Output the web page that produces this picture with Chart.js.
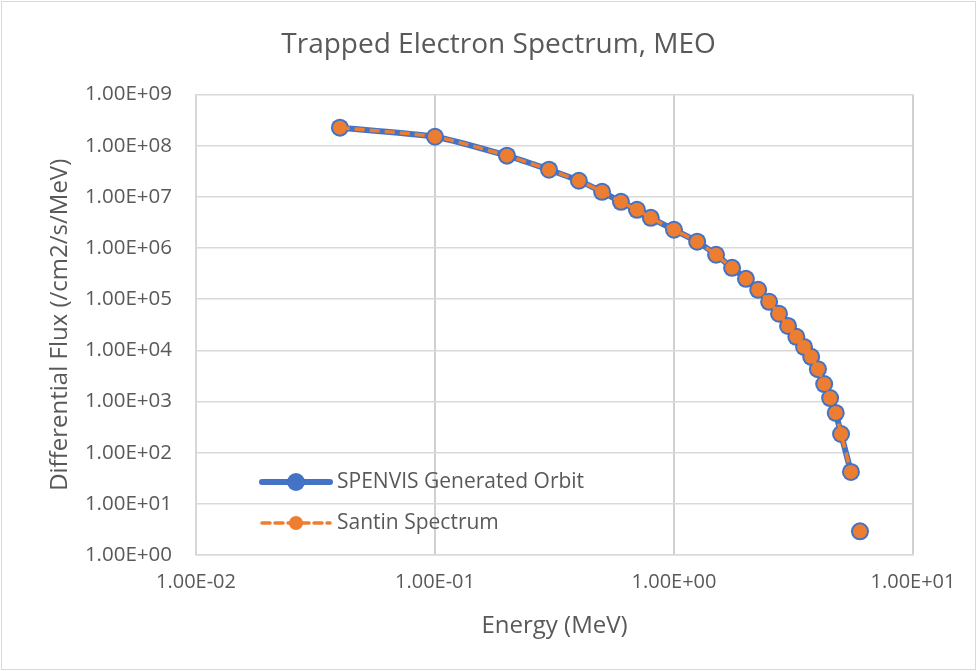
<!DOCTYPE html>
<html>
<head>
<meta charset="utf-8">
<script src="https://cdn.jsdelivr.net/npm/chart.js@4.4.1/dist/chart.umd.min.js"></script>
<style>
  html, body { margin: 0; padding: 0; background: #fff; }
  #wrap { position: relative; width: 977px; height: 671px; }
</style>
</head>
<body>
<div id="wrap"><canvas id="fluxChart" width="977" height="671"></canvas></div>
<script>
// Energies (MeV) and differential flux
const energies = [0.04, 0.1, 0.2, 0.3, 0.4, 0.5, 0.6, 0.7, 0.8, 1.0,
    1.25, 1.5, 1.75, 2.0, 2.25, 2.5, 2.75, 3.0, 3.25, 3.5,
    3.75, 4.0, 4.25, 4.5, 4.75, 5.0, 5.5, 5.75, 6.0];
const spenvisFlux = [2.26e8, 1.5e8, 6.4e7, 3.4e7, 2.07e7, 1.26e7, 8.0e6, 5.6e6, 3.9e6, 2.28e6,
    1.33e6, 7.4e5, 4.1e5, 2.5e5, 1.53e5, 8.9e4, 5.2e4, 3.0e4, 1.84e4, 1.17e4,
    7.5e3, 4.3e3, 2.2e3, 1.17e3, 600, 232, 42, null, 2.9];
const santinFlux = [2.26e8, 1.5e8, 6.4e7, 3.4e7, 2.07e7, 1.26e7, 8.0e6, 5.6e6, 3.9e6, 2.28e6,
    1.33e6, 7.4e5, 4.1e5, 2.5e5, 1.53e5, 8.9e4, 5.2e4, 3.0e4, 1.84e4, 1.17e4,
    7.5e3, 4.3e3, 2.2e3, 1.17e3, 600, 232, 42, null, 2.9];

const xTicks = [0.01, 0.1, 1, 10];
const xTickLabels = ['1.00E-02', '1.00E-01', '1.00E+00', '1.00E+01'];
const yTicks = [1, 1e1, 1e2, 1e3, 1e4, 1e5, 1e6, 1e7, 1e8, 1e9];
const yTickLabels = ['1.00E+00', '1.00E+01', '1.00E+02', '1.00E+03', '1.00E+04',
    '1.00E+05', '1.00E+06', '1.00E+07', '1.00E+08', '1.00E+09'];

const seriesNames = ['SPENVIS Generated Orbit', 'Santin Spectrum'];

const BLUE = '#4472C4';
const ORANGE = '#ED7D31';
const TEXT = '#595959';
const GRID = '#d9d9d9';

Chart.defaults.font.family = "'Open Sans', sans-serif";
Chart.defaults.color = TEXT;

function toPoints(ys) {
    return energies.map((e, i) => ({ x: e, y: ys[i] }));
}

// white background + outer frame
const frame = {
    id: 'frame',
    beforeDraw(chart) {
        const c = chart.ctx;
        c.save();
        c.fillStyle = '#fff';
        c.fillRect(0, 0, chart.width, chart.height);
        c.strokeStyle = GRID;
        c.lineWidth = 1;
        c.strokeRect(1.5, 1.5, chart.width - 3, chart.height - 3);
        c.restore();
    }
};

// legend sitting inside the plot area, lower left
const innerLegend = {
    id: 'innerLegend',
    afterDraw(chart) {
        const c = chart.ctx;
        const rows = [
            { y: 482, color: BLUE, width: 6, dash: [], r: 9 },
            { y: 523, color: ORANGE, width: 3.5, dash: [8, 5], r: 7 }
        ];
        c.save();
        rows.forEach((row, i) => {
            c.beginPath();
            c.setLineDash(row.dash);
            c.strokeStyle = row.color;
            c.lineWidth = row.width;
            c.lineCap = 'round';
            c.moveTo(262, row.y);
            c.lineTo(330, row.y);
            c.stroke();
            c.setLineDash([]);
            c.beginPath();
            c.fillStyle = row.color;
            c.arc(296, row.y, row.r, 0, Math.PI * 2);
            c.fill();
            c.fillStyle = TEXT;
            c.font = "21px 'Open Sans', sans-serif";
            c.textBaseline = 'middle';
            c.textAlign = 'left';
            c.fillText(seriesNames[i], 337, row.y);
        });
        c.restore();
    }
};

const ctx = document.getElementById('fluxChart').getContext('2d');
new Chart(ctx, {
    type: 'line',
    data: {
        datasets: [{
            label: seriesNames[0],
            data: toPoints(spenvisFlux),
            borderColor: BLUE,
            backgroundColor: BLUE,
            borderWidth: 6,
            pointRadius: 9,
            pointBorderWidth: 0,
            pointBackgroundColor: BLUE,
            tension: 0.2,
            spanGaps: false,
            order: 2
        }, {
            label: seriesNames[1],
            data: toPoints(santinFlux),
            borderColor: ORANGE,
            backgroundColor: ORANGE,
            borderWidth: 3.5,
            borderDash: [10, 5],
            pointRadius: 7,
            pointBorderWidth: 0,
            pointBackgroundColor: ORANGE,
            tension: 0.2,
            spanGaps: false,
            order: 1
        }]
    },
    options: {
        responsive: false,
        animation: false,
        layout: { padding: { left: 20, right: 0, top: 0, bottom: 0 } },
        plugins: {
            legend: { display: false },
            tooltip: { enabled: false },
            title: {
                display: true,
                text: 'Trapped Electron Spectrum, MEO',
                color: TEXT,
                font: { size: 28, weight: 'normal' },
                padding: { top: 28, bottom: 33 }
            }
        },
        scales: {
            x: {
                type: 'logarithmic',
                min: 0.01,
                max: 10,
                afterBuildTicks: s => { s.ticks = xTicks.map(v => ({ value: v })); },
                afterFit: s => { s.height = 116; },
                ticks: {
                    callback: (v, i) => xTickLabels[i],
                    font: { size: 20 },
                    color: TEXT,
                    padding: 15,
                    maxRotation: 0,
                    autoSkip: false
                },
                grid: { color: '#d0d0d0', lineWidth: 2, drawTicks: false },
                border: { color: GRID, width: 1.5 },
                title: {
                    display: true,
                    text: 'Energy (MeV)',
                    color: TEXT,
                    font: { size: 24 },
                    padding: { top: 0, bottom: 30 }
                }
            },
            y: {
                type: 'logarithmic',
                min: 1,
                max: 1e9,
                afterBuildTicks: s => { s.ticks = yTicks.map(v => ({ value: v })); },
                afterFit: s => { s.width = 176; },
                ticks: {
                    callback: (v, i) => yTickLabels[i],
                    font: { size: 20.5 },
                    color: TEXT,
                    padding: 24,
                    autoSkip: false
                },
                grid: { color: GRID, lineWidth: 1.5, drawTicks: false },
                border: { color: GRID, width: 1.5 },
                title: {
                    display: true,
                    text: 'Differential Flux (/cm2/s/MeV)',
                    color: TEXT,
                    font: { size: 24 },
                    padding: { top: 26, bottom: 0 }
                }
            },
            // invisible spacer axis keeping the right margin
            yRight: {
                type: 'linear',
                position: 'right',
                display: true,
                afterFit: s => { s.width = 64; },
                ticks: { display: false },
                grid: { display: false, drawTicks: false },
                border: { display: false }
            }
        }
    },
    plugins: [frame, innerLegend]
});
</script>
</body>
</html>
